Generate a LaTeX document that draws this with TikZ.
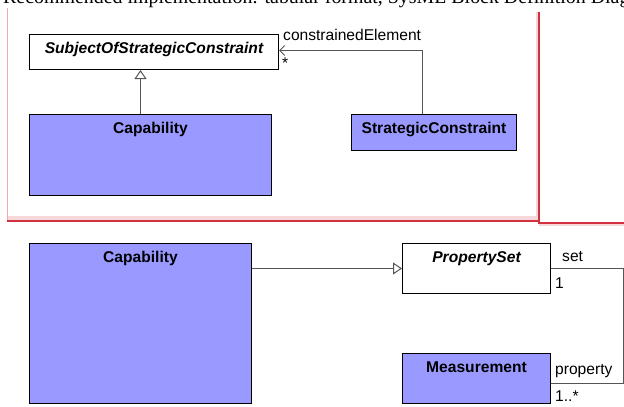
\documentclass[tikz,border=0pt]{standalone}
\usepackage{fontspec}
\setmainfont{Liberation Serif}
\newfontfamily\umlfont{Liberation Sans}
\usetikzlibrary{arrows.meta,positioning}

\definecolor{blockblue}{HTML}{9999FF}
\definecolor{wireGray}{HTML}{555555}
\definecolor{framePink}{HTML}{F2A8B0}
\definecolor{frameRed}{HTML}{D03040}
\definecolor{bandPink}{HTML}{F6D8DA}

\begin{document}
\begin{tikzpicture}[x=1pt,y=-1pt,
    block/.style={draw=black,line width=1pt,fill=blockblue,anchor=north west,inner sep=0pt},
    abstractblock/.style={block,fill=white},
    title/.style={anchor=base,inner sep=0pt,font=\umlfont\fontsize{15.6}{18}\selectfont\bfseries},
    role/.style={anchor=base west,inner sep=0pt,font=\umlfont\fontsize{15.6}{18}\selectfont},
    wire/.style={draw=wireGray,line width=1pt},
    gen/.style={wire,-{Triangle[open,length=9pt,width=12pt]}},
    nav/.style={wire,-{Straight Barb[length=5pt,width=10pt]}}]
    \clip (0,0) rectangle (624,407);
    %\draw[help lines] (0,0) grid[step=20] (624,407);

    \node[anchor=base west,inner sep=0pt,font=\fontsize{19.9}{22}\selectfont] (heading) at (3,3)
        {Recommended implementation: tabular format, SysML Block Definition Diagram};

    % frame round the upper view
    \fill[bandPink] (7,216) rectangle (539,220);
    \fill[bandPink] (535.5,12) rectangle (538,220);
    \fill[bandPink] (539,224) rectangle (624,225.5);
    \draw[framePink] (7,8) -- (7,221);
    \draw[frameRed,line width=1.2pt] (7,221) -- (539,221) -- (539,12);
    \draw[frameRed,line width=1.2pt] (539,221) -- (539,223) -- (624,223);

    % upper view
    \node[abstractblock,minimum width=249pt,minimum height=35pt] (subject) at (29,34) {};
    \node[title] at ([yshift=-19pt]subject.north) {\itshape SubjectOfStrategicConstraint};
    \node[block,minimum width=242pt,minimum height=81pt] (capA) at (29,114) {};
    \node[title] at ([yshift=-19pt]capA.north) {Capability};
    \node[block,minimum width=165pt,minimum height=36pt] (constraint) at (351,114) {};
    \node[title] at ([yshift=-19pt]constraint.north) {StrategicConstraint};

    \draw[gen] ([xshift=-10pt]capA.north) -- ([xshift=-10pt]capA.north |- subject.south);
    \draw[nav] ([xshift=-11.5pt]constraint.north) |- ([yshift=1.5pt]subject.east);
    \node[role] (constrained) at (283,40) {constrainedElement};
    \node[role] (constrainedMult) at (282,68) {*};

    % lower view
    \node[block,minimum width=222pt,minimum height=160pt] (capB) at (29,243) {};
    \node[title] at ([yshift=-19pt]capB.north) {Capability};
    \node[abstractblock,minimum width=148pt,minimum height=50pt] (propSet) at (402,243) {};
    \node[title] at ([yshift=-19pt]propSet.north) {\itshape PropertySet};
    \node[block,minimum width=148pt,minimum height=50pt] (measure) at (402,353) {};
    \node[title] at ([yshift=-19pt]measure.north) {Measurement};

    \draw[gen] (capB.east |- propSet.west) -- (propSet.west);
    \draw[wire] (propSet.east) -- ++(72,0) |- ([yshift=-5pt]measure.east);
    \node[role] (setRole) at (562,261) {set};
    \node[role] (setMult) at (555,288) {1};
    \node[role] (propRole) at (555,374) {property};
    \node[role] (propMult) at (555,401) {1..*};
\end{tikzpicture}
\end{document}
